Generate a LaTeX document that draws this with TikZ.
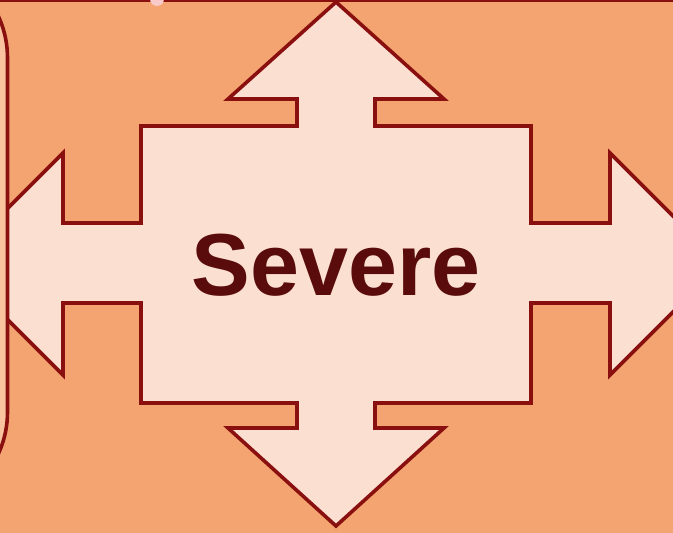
\documentclass[tikz,border=0pt]{standalone}
\usepackage{fontspec}
\setmainfont{Liberation Sans}
\definecolor{bgorange}{HTML}{F3A470}
\definecolor{arrowfill}{HTML}{FBE0D1}
\definecolor{darkrim}{HTML}{8A1010}
\definecolor{textred}{HTML}{5A0C0C}
\definecolor{sidefill}{HTML}{F9C3A0}
\definecolor{dotpink}{HTML}{F9CACA}
\begin{document}
\begin{tikzpicture}[
  x=1pt, y=-1pt,
  rim/.style={draw=darkrim, line width=3.6pt},
  crossarrow/.style={rim, fill=arrowfill, line join=miter},
  label/.style={font=\bfseries\fontsize{88}{88}\selectfont, text=textred, inner sep=0pt}
]
\useasboundingbox (0,0) rectangle (673,533);
\clip (0,0) rectangle (673,533);
\fill[bgorange] (0,0) rectangle (673,533);
% four-way arrow
\draw[crossarrow] (336,2) -- (444,99) -- (375,99) -- (375,126) -- (531,126)
  -- (531,223) -- (610,223) -- (610,153) -- (721,264) -- (610,375)
  -- (610,303) -- (531,303) -- (531,403) -- (375,403) -- (375,428)
  -- (444,428) -- (336,526) -- (228,428) -- (297,428) -- (297,403)
  -- (141,403) -- (141,303) -- (63,303) -- (63,375) -- (-48,264)
  -- (63,153) -- (63,223) -- (141,223) -- (141,126) -- (297,126)
  -- (297,99) -- (228,99) -- cycle;
% neighbour box on the left
\draw[rim, fill=sidefill, rounded corners=100pt] (-300,-42) rectangle (7.5,512);
% frame edge on top
\draw[darkrim, line width=4pt] (0,0) -- (673,0);
\fill[dotpink] (157,-1) circle (7);
\node[label] (severe) at (336,265) {Severe};
\end{tikzpicture}
\end{document}
